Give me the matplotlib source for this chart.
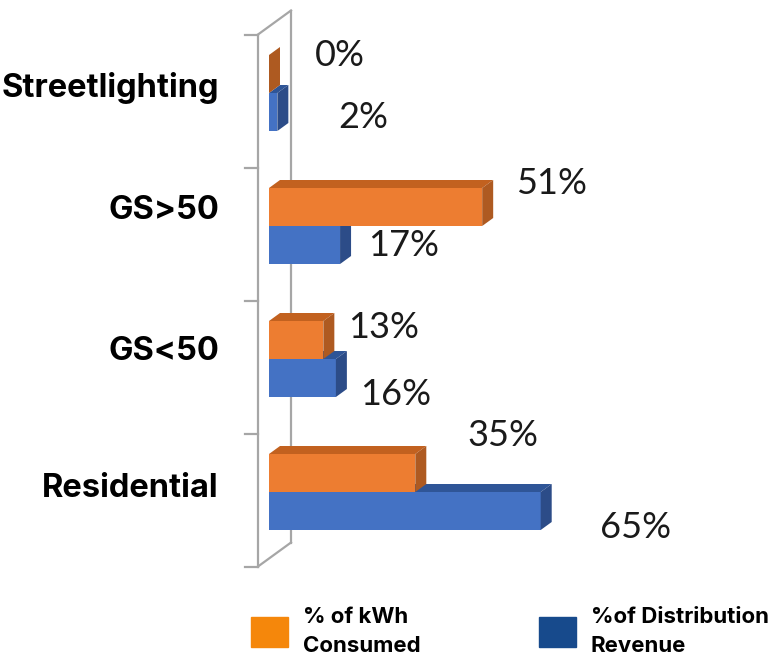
import numpy as np
import matplotlib.pyplot as plt
from matplotlib.patches import Polygon, Patch

# share of consumption vs share of distribution revenue by rate class
categories = ['Residential', 'GS<50', 'GS>50', 'Streetlighting']
kwh_share = [35, 13, 51, 0]
revenue_share = [65, 16, 17, 2]

# label nudges in pixels (x from bar end, y from bar middle)
kwh_lab_dx = [88, 60, 69, 71]
kwh_lab_dy = [38, 12, 24, 19]
rev_lab_dx = [95, 60, 63, 86]
rev_lab_dy = [-17, -17, 0, -5]
cat_lab_dy = [-5, -1, 7, -4]   # baseline shift for the category names

orange = {'front': '#ED7D31', 'top': '#C2611F', 'side': '#AE5A21'}
blue = {'front': '#4472C4', 'top': '#2F5597', 'side': '#2C4C88'}
wall_color = '#A6A6A6'

W, H = 773, 662
px_x = 4.18    # pixels per percent
px_y = 133.0   # pixels per category step
x0, y0 = 269, 492

fig = plt.figure(figsize=(W / 100, H / 100), dpi=100)
ax = fig.add_axes([0, 0, 1, 1])
ax.set_xlim(-x0 / px_x, (W - x0) / px_x)
ax.set_ylim(-(H - y0) / px_y, y0 / px_y)
ax.axis('off')

h = 38 / px_y          # bar thickness
ddx = 11 / px_x        # depth offset
ddy = 8 / px_y


def bar3d(v, bottom, col):
    top = bottom + h
    ax.barh(bottom, v, height=h, left=0, align='edge', color=col['front'],
            linewidth=0, zorder=3)
    ax.add_patch(Polygon([(0, top), (v, top), (v + ddx, top + ddy), (ddx, top + ddy)],
                         closed=True, color=col['top'], lw=0, zorder=3))
    ax.add_patch(Polygon([(v, bottom), (v, top), (v + ddx, top + ddy), (v + ddx, bottom + ddy)],
                         closed=True, color=col['side'], lw=0, zorder=3))


# side wall of the 3d plot
n = len(categories)
lo, hi = -0.5, n - 0.5
ax.plot([-ddx, -ddx], [lo - ddy, hi - ddy], color=wall_color, lw=1.6, zorder=1)
ax.plot([2 * ddx, 2 * ddx], [lo + 2 * ddy, hi + 2 * ddy], color=wall_color, lw=1.6, zorder=1)
ax.plot([-ddx, 2 * ddx], [lo - ddy, lo + 2 * ddy], color=wall_color, lw=1.6, zorder=1)
ax.plot([-ddx, 2 * ddx], [hi - ddy, hi + 2 * ddy], color=wall_color, lw=1.6, zorder=1)
for t in np.arange(lo, hi + 0.01, 1.0):
    ax.plot([-ddx - 13 / px_x, -ddx], [t - ddy, t - ddy], color=wall_color, lw=1.6, zorder=1)

lab_font = dict(family='Lato', fontsize=26, color='#1a1a1a', ha='center', va='center')
for i, cat in enumerate(categories):
    bar3d(revenue_share[i], i - h, blue)
    bar3d(kwh_share[i], i, orange)
    ax.annotate(f'{kwh_share[i]}%', (kwh_share[i], i + h / 2),
                xytext=(kwh_lab_dx[i], kwh_lab_dy[i]), textcoords='offset pixels', **lab_font)
    ax.annotate(f'{revenue_share[i]}%', (revenue_share[i], i - h / 2),
                xytext=(rev_lab_dx[i], rev_lab_dy[i]), textcoords='offset pixels', **lab_font)
    ax.annotate(cat, (-(x0 - 219) / px_x, i), xytext=(0, cat_lab_dy[i]),
                textcoords='offset pixels', family='Inter', fontweight='bold',
                fontsize=23.5, ha='right', va='baseline', color='black')

handles = [Patch(color='#F5870B', label='% of kWh\nConsumed'),
           Patch(color='#174A8C', label='%of Distribution\nRevenue')]
leg = fig.legend(handles=handles, loc='upper left', bbox_to_anchor=(251 / W, 1 - 607 / H),
                 ncol=2, frameon=False, prop={'family': 'Inter', 'weight': 'bold', 'size': 16},
                 handlelength=1.67, handleheight=1.7, handletextpad=0.68, columnspacing=5.3,
                 borderpad=0, borderaxespad=0)
for txt in leg.get_texts():
    txt.set_linespacing(1.55)

fig.savefig('out.png', dpi=100)
